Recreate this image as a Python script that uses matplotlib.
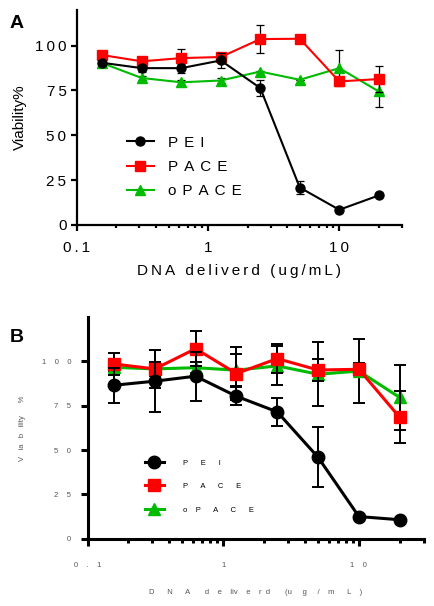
import matplotlib
matplotlib.use('Agg')
import matplotlib.pyplot as plt
from matplotlib.ticker import LogLocator, NullFormatter, FixedLocator, FixedFormatter
from matplotlib.lines import Line2D

plt.rcParams['font.family'] = ['Liberation Sans', 'DejaVu Sans']

dose = [0.156, 0.3125, 0.625, 1.25, 2.5, 5, 10, 20]
names = ['PEI', 'PACE', 'oPACE']
colors = ['black', 'red', '#00bb00']
markers = ['o', 's', '^']

# panel A
a_pei = [90.4, 87.4, 87.4, 91.7, 76.3, 20.8, 8.4, 16.4]
a_pei_err = [1.5, 2, 2.5, 4, 4.5, 3.5, 0, 0]
a_pace = [94.7, 91.2, 93.0, 93.6, 103.6, 103.8, 80.0, 81.3]
a_pace_err = [2, 1.5, 5, 1.5, 8, 0, 0, 7.4]
a_opace = [90.2, 81.9, 79.5, 80.5, 85.5, 80.9, 87.4, 74.4]
a_opace_err = [1, 1, 1.5, 1.5, 0.5, 0, 10, 8.5]

# panel B
b_pei = [86.5, 88.8, 91.6, 80.3, 71.5, 45.9, 12.5, 10.7]
b_pei_err = [10, 17.5, 13.7, 5, 8, 17, 0, 0]
b_pace = [98.5, 95.7, 107.1, 93.1, 101.5, 95.1, 95.5, 68.4]
b_pace_err = [6, 10.5, 10, 15, 8, 6, 3.5, 14.7]
b_opace = [96.6, 95.7, 96.4, 95.0, 97.4, 92.7, 94.5, 79.6]
b_opace_err = [2, 4, 3, 9, 11, 18, 18, 18.5]

yticks = [0, 25, 50, 75, 100]
xticks = [0.1, 1, 10]
xticklabels = ['0.1', '1', '10']


def sp(s, gap):
    return gap.join(s)


fig = plt.figure(figsize=(4.34, 6.06), dpi=100)
axA = fig.add_axes([0.177, 0.629, 0.749, 0.355])
axB = fig.add_axes([0.202, 0.111, 0.774, 0.366])


def draw(ax, data, errs, ms, lw, elw, cap):
    handles = {}
    for i in [2, 1, 0]:
        ax.errorbar(dose, data[i], yerr=errs[i], color=colors[i], marker=markers[i],
                    ms=ms, lw=lw, ecolor='black', elinewidth=elw, capsize=cap,
                    capthick=elw, zorder=2 + (2 - i))
        handles[i] = Line2D([], [], color=colors[i], marker=markers[i], ms=ms, lw=lw)
    return [handles[0], handles[1], handles[2]]


def style(ax, ymax, spw, fs, tcol, gap, ticklen):
    ax.set_xscale('log')
    ax.set_xlim(0.1, 30)
    ax.set_ylim(0, ymax)
    for s in ['top', 'right']:
        ax.spines[s].set_visible(False)
    for s in ['left', 'bottom']:
        ax.spines[s].set_linewidth(spw)
    ax.yaxis.set_major_locator(FixedLocator(yticks))
    ax.set_yticklabels([sp(str(t), gap) for t in yticks], fontsize=fs, color=tcol)
    ax.xaxis.set_major_locator(FixedLocator(xticks))
    ax.xaxis.set_major_formatter(FixedFormatter([sp(t, gap) for t in xticklabels]))
    ax.xaxis.set_minor_locator(LogLocator(base=10, subs=range(2, 10), numticks=20))
    ax.xaxis.set_minor_formatter(NullFormatter())
    ax.tick_params(axis='both', which='major', width=spw, length=ticklen, labelsize=fs,
                   labelcolor=tcol)
    ax.tick_params(axis='x', which='minor', width=spw, length=ticklen * 0.6)


# ---- A
hA = draw(axA, [a_pei, a_pace, a_opace], [a_pei_err, a_pace_err, a_opace_err],
          6.5, 1.5, 0.9, 3)
style(axA, 120, 1.6, 11, 'black', '\u2009', 4)
axA.tick_params(axis='x', which='major', pad=8)
axA.set_ylabel('Viability%', fontsize=11, labelpad=6)
axA.set_xlabel(sp('DNA deliverd (ug/mL)', '\u2009'), fontsize=11, labelpad=6)
axA.legend(hA, [sp(n, '\u2009\u2009') for n in names], loc='upper left', frameon=False,
           bbox_to_anchor=(0.13, 0.45), fontsize=11, handlelength=1.8, handletextpad=0.9,
           labelspacing=0.68, borderpad=0)
fig.text(0.022, 0.962, 'A', fontsize=14, fontweight='bold', va='center')

# ---- B
hB = draw(axB, [b_pei, b_pace, b_opace], [b_pei_err, b_pace_err, b_opace_err],
          9, 2.2, 1.4, 4)
style(axB, 125, 2.2, 5.5, '#555555', '    ', 5)
axB.tick_params(axis='x', which='major', pad=12)
axB.tick_params(axis='y', which='major', pad=7)
axB.set_ylabel('V   ia   b   ility      %', fontsize=5.5, color='#555555', labelpad=11)
axB.set_xlabel('D      N      A       d    e    liv    e    r  d       (u     g     /    m      L    )',
               fontsize=5.5, color='#555555', labelpad=14)
axB.legend(hB, ['P      E      I', 'P      A      C      E', 'o    P      A      C      E'],
           loc='upper left', frameon=False, bbox_to_anchor=(0.16, 0.375), fontsize=5.5,
           handlelength=2.4, handletextpad=2.6, labelspacing=2.1, borderpad=0)
fig.text(0.022, 0.443, 'B', fontsize=14, fontweight='bold', va='center')

fig.savefig('out.png', dpi=100)
